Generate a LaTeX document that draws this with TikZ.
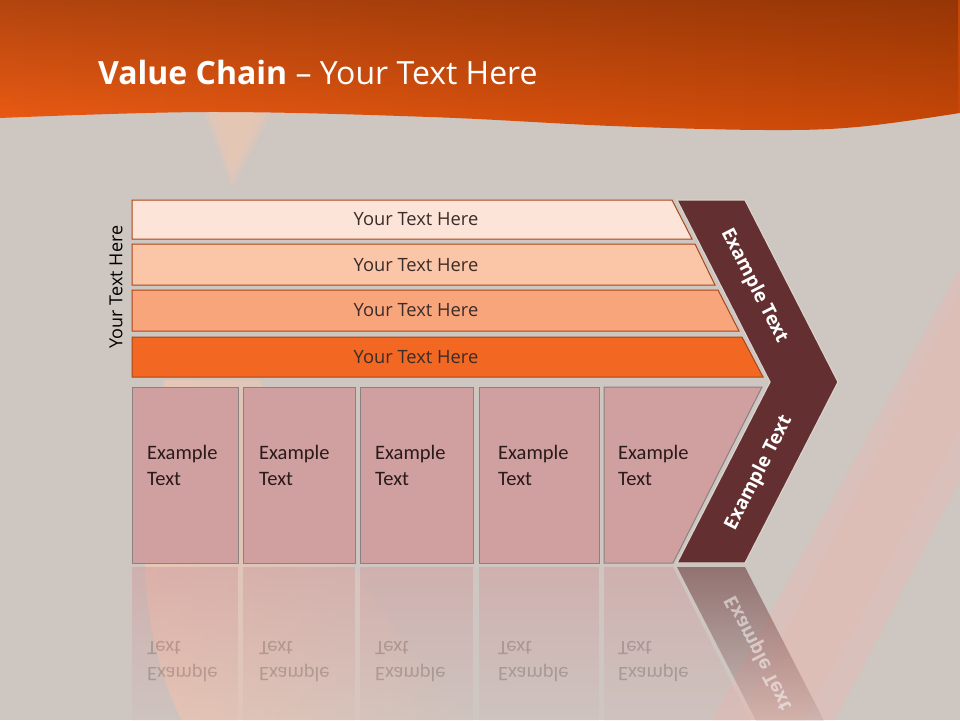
\documentclass[tikz,border=0pt]{standalone}
\usepackage{fontspec}
\usepackage{graphicx}
\setmainfont{Carlito}
\newfontfamily\osans{Open Sans}
\usetikzlibrary{fadings}
\definecolor{bg}{HTML}{CEC6C1}
\definecolor{hdrleft}{HTML}{EE5C14}
\definecolor{hdrright}{HTML}{C84808}
\definecolor{barone}{HTML}{FDE4D8}
\definecolor{bartwo}{HTML}{FBC5A8}
\definecolor{barthree}{HTML}{F9A57B}
\definecolor{barfour}{HTML}{F26722}
\definecolor{barline}{HTML}{A8461C}
\definecolor{bartxt}{HTML}{3A2C28}
\definecolor{boxfill}{HTML}{D09FA0}
\definecolor{boxline}{HTML}{8C8080}
\definecolor{boxtxt}{HTML}{2A1A1A}
\definecolor{chev}{HTML}{632F30}
\definecolor{chevedge}{HTML}{DAD2CD}
\definecolor{pinkband}{HTML}{E8BAB2}
\definecolor{peach}{HTML}{F6C7B0}
\tikzfading[name=reflfade, top color=transparent!45, bottom color=transparent!100]
\tikzfading[name=peachfade, left color=transparent!30, right color=transparent!100]
\tikzfading[name=topdark, top color=transparent!0, bottom color=transparent!100]
\begin{document}
\begin{tikzpicture}[x=1pt,y=-1pt,
  bar/.style={draw=barline, line width=1pt},
  box/.style={draw=boxline, fill=boxfill, line width=1pt},
  bartext/.style={font=\osans\fontsize{18.3}{20}\selectfont, text=bartxt, inner sep=0pt},
  boxtext/.style={font=\fontsize{20.5}{24}\selectfont, text=boxtxt, anchor=base west, inner sep=0pt},
  chevtext/.style={font=\osans\bfseries\fontsize{19}{22}\selectfont, text=white, inner sep=0pt},
  refltext/.style={boxtext, text opacity=0.22},
  refl/.style={path fading=reflfade, fill=boxfill},
]
\useasboundingbox (0,0) rectangle (960,720);
\fill[bg] (0,0) rectangle (960,720);

% background decorations
\fill[pinkband, opacity=0.45] (960,268) -- (960,480) -- (835,720) -- (712,720) -- cycle;
\fill[pinkband, opacity=0.3] (960,290) -- (960,430) -- (805,720) -- (740,720) -- cycle;
\fill[peach, opacity=0.25] (204,112) -- (272,112) -- (232,188) -- cycle;
\fill[peach, opacity=0.25] (208,112) -- (267,112) -- (232,180) -- cycle;
\fill[peach, opacity=0.25] (214,112) -- (260,112) -- (233,168) -- cycle;
\fill[peach, path fading=peachfade] (165,380) .. controls (132,520) and (140,640) .. (182,720) -- (470,720) .. controls (380,620) and (300,500) .. (260,380) -- cycle;

% header
\path[left color=hdrleft, right color=hdrright]
  (0,0) -- (960,0) -- plot[smooth, tension=0.6] coordinates {(960,113) (857,127) (765,130) (612,126) (430,117) (208,112) (0,118)} -- cycle;
\fill[black, opacity=0.25, path fading=topdark]
  (0,0) -- (960,0) -- plot[smooth, tension=0.6] coordinates {(960,113) (857,127) (765,130) (612,126) (430,117) (208,112) (0,118)} -- cycle;
\node[anchor=base west, text=white, font=\osans\fontsize{32}{38}\selectfont, inner sep=0pt] (title) at (98,84) {\textbf{Value Chain} – Your Text Here};

% side label
\node[font=\osans\fontsize{18}{20}\selectfont, text=black, rotate=90, inner sep=0pt] (side) at (116,287) {Your Text Here};

% bars
\draw[bar, fill=barone] (132,200) -- (672,200) -- (692,239) -- (132,239) -- cycle;
\draw[bar, fill=bartwo] (132,244) -- (695,244) -- (715,285) -- (132,285) -- cycle;
\draw[bar, fill=barthree] (132,290) -- (718,290) -- (739,331) -- (132,331) -- cycle;
\draw[bar, fill=barfour] (132,337) -- (742,337) -- (763,377) -- (132,377) -- cycle;
\node[bartext] (b1) at (416,219.5) {Your Text Here};
\node[bartext] (b2) at (416,265) {Your Text Here};
\node[bartext] (b3) at (416,310.5) {Your Text Here};
\node[bartext] (b4) at (416,357) {Your Text Here};

% boxes
\draw[box] (132,387) rectangle (238,563);
\draw[box] (243,387) rectangle (355,563);
\draw[box] (360,387) rectangle (473,563);
\draw[box] (479,387) rectangle (599,563);
\draw[box] (604,387) -- (762,387) -- (673,563) -- (604,563) -- cycle;
\foreach \x/\n in {147/1,259/2,375/3,498/4,618/5}{
  \node[boxtext] (e\n) at (\x,459) {Example};
  \node[boxtext] (t\n) at (\x,485) {Text};
}

% chevron
\draw[fill=chev, draw=chevedge, line width=1.2pt] (677,200) -- (745,200) -- (838,382) -- (745,563) -- (677,563) -- (770,382) -- cycle;
\node[chevtext, rotate=-62.9] (c1) at (754,286) {Example Text};
\node[chevtext, rotate=62.9] (c2) at (759,473) {Example Text};

% reflections
\fill[refl] (132,567) rectangle (238,740);
\fill[refl] (243,567) rectangle (355,740);
\fill[refl] (360,567) rectangle (473,740);
\fill[refl] (479,567) rectangle (599,740);
\fill[refl] (604,567) -- (673,567) -- (762,743) -- (604,743) -- cycle;
\fill[chev, path fading=reflfade] (677,567) -- (745,567) -- (838,748) -- (770,748) -- cycle;
\foreach \x/\n in {147/1,259/2,375/3,498/4,618/5}{
  \node[refltext] (re\n) at (\x,667) {\scalebox{1}[-1]{Example}};
  \node[refltext] (rt\n) at (\x,641) {\scalebox{1}[-1]{Text}};
}
\node[chevtext, rotate=-62.9, text opacity=0.5] (rc) at (759,653) {\scalebox{1}[-1]{Example Text}};
\end{tikzpicture}
\end{document}
